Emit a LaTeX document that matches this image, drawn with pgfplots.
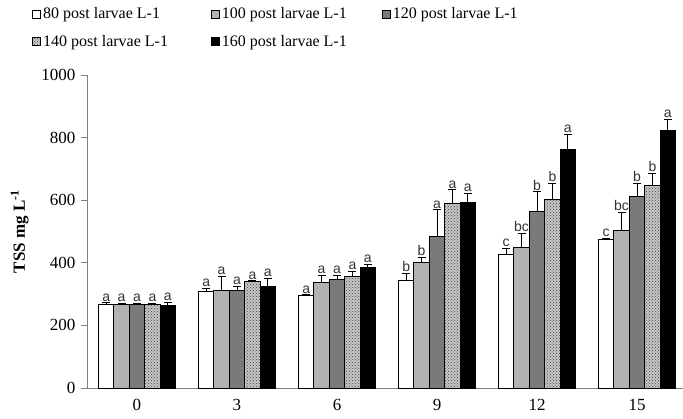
\documentclass[border=0pt]{standalone}
\usepackage{pgfplots}
\pgfplotsset{compat=1.18}
\usepackage{pgfplotstable}
\usepackage{fontspec}
\setmainfont{Liberation Serif}
\newfontfamily\lettersf{Liberation Sans}
\usetikzlibrary{patterns}

\pgfplotstableread{
x y e l
0 267 5 a
1 308 10 a
2 295 3 a
3 345 21 b
4 425 21 c
5 475 3 c
}\sA
\pgfplotstableread{
x y e l
0 267 4 a
1 311 45 a
2 336 25 a
3 400 18 b
4 449 45 bc
5 503 58 bc
}\sB
\pgfplotstableread{
x y e l
0 267 4 a
1 311 13 a
2 348 13 a
3 483 86 a
4 565 62 b
5 613 41 b
}\sC
\pgfplotstableread{
x y e l
0 267 4 a
1 340 3 a
2 356 16 a
3 590 43 a
4 601 53 b
5 646 40 b
}\sD
\pgfplotstableread{
x y e l
0 263 10 a
1 324 26 a
2 386 10 a
3 593 29 a
4 762 49 a
5 822 36 a
}\sE

\begin{document}
\begin{tikzpicture}
\begin{axis}[
  scale only axis,
  width=596pt, height=313pt,
  xmin=-0.5, xmax=5.46,
  ymin=0, ymax=1000,
  axis lines=left,
  axis line style={gray, line width=0.8pt, -},
  ybar=0pt,
  bar width=0.154,
  xtick={0,1,2,3,4,5},
  xticklabels={0,3,6,9,12,15},
  x tick style={draw=none},
  extra x ticks={-0.5,0.5,1.5,2.5,3.5,4.5},
  extra x tick labels={},
  extra x tick style={tick style={draw=gray, line width=0.8pt}, major tick length=5pt, tick align=outside},
  ytick={0,200,400,600,800,1000},
  y tick style={gray, line width=0.8pt},
  major tick length=6pt,
  tick align=outside,
  tick label style={font=\fontsize{17}{18}\selectfont},
  yticklabel style={xshift=-2pt},
  xticklabel style={yshift=-2pt},
  /pgf/number format/assume math mode=true,
  /pgf/number format/1000 sep={},
  ylabel={\textbf{TSS mg L\textsuperscript{-1}}},
  ylabel style={font=\fontsize{17}{18}\selectfont, at={(axis description cs:-0.113,0.5)}, anchor=center},
  every axis plot/.append style={draw=black, line width=1pt},
  error bars/y dir=plus,
  error bars/y explicit,
  error bars/error bar style={line width=1pt, black},
  error bars/error mark options={rotate=90, mark size=4pt, line width=1pt, black},
  nodes near coords,
  point meta=explicit symbolic,
  visualization depends on={0.313*\thisrow{e} \as \eshift},
  every node near coord/.append style={yshift=\eshift pt, inner sep=1pt, font=\lettersf\fontsize{14}{14}\selectfont, black!80},
  legend columns=3,
  legend style={draw=none, fill=none, at={(axis description cs:-0.092,1.222)}, anchor=north west,
    font=\fontsize{16}{17}\selectfont, row sep=11pt, column sep=0pt, inner sep=0pt},
  legend cell align=left,
  legend image code/.code={\draw[#1, line width=0.8pt] (0pt,-4pt) rectangle (8pt,4pt);},
]
\addplot[fill=white] table[x=x, y=y, y error=e, meta=l] {\sA};
\addlegendentry{\makebox[166pt][l]{80 post larvae L-1}}
\addplot[fill=black!30] table[x=x, y=y, y error=e, meta=l] {\sB};
\addlegendentry{\makebox[158pt][l]{100 post larvae L-1}}
\addplot[fill=black!52] table[x=x, y=y, y error=e, meta=l] {\sC};
\addlegendentry{120 post larvae L-1}
\addplot[fill=black!22, postaction={pattern=crosshatch dots, pattern color=black!75}] table[x=x, y=y, y error=e, meta=l] {\sD};
\addlegendentry{\makebox[166pt][l]{140 post larvae L-1}}
\addplot[fill=black] table[x=x, y=y, y error=e, meta=l] {\sE};
\addlegendentry{160 post larvae L-1}
\coordinate (O) at (rel axis cs:0,0);
\end{axis}
\pgfresetboundingbox
\path[use as bounding box] ([xshift=-87pt,yshift=-30pt]O) rectangle ([xshift=596pt,yshift=388pt]O);
\end{tikzpicture}
\end{document}
